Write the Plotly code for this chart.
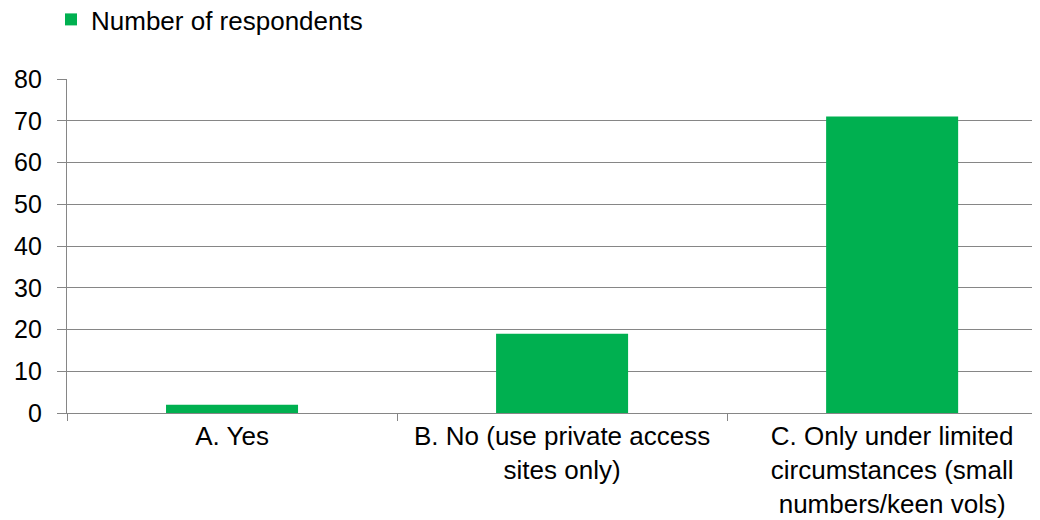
import plotly.graph_objects as go

categories = ["A. Yes", "B. No (use private access<br>sites only)",
              "C. Only under limited<br>circumstances (small<br>numbers/keen vols)"]
values = [2, 19, 71]
series_name = "Number of respondents"
y_ticks = [0, 10, 20, 30, 40, 50, 60, 70, 80]

fig = go.Figure()
fig.add_trace(go.Bar(x=categories, y=values, name=series_name,
                     marker=dict(color="#00B050", line=dict(width=0)),
                     width=0.4, showlegend=True))

grey = "#868686"
W, H = 1032, 512
plot_h = H - 71 - 107
fig.update_layout(
    width=W, height=H,
    margin=dict(l=59, r=0, t=71, b=107, autoexpand=False),
    paper_bgcolor="white", plot_bgcolor="white",
    font=dict(family="Liberation Sans, Arial, sans-serif", size=26, color="black"),
    legend=dict(x=-16 / 973, y=1 + 83 / plot_h, xref="paper", yref="paper",
                xanchor="left", yanchor="top", orientation="h",
                font=dict(size=26), itemwidth=30, bgcolor="rgba(0,0,0,0)",
                borderwidth=0),
    bargap=0.6,
    xaxis=dict(type="category", range=[-0.5, 2.448], tickson="boundaries",
               ticks="outside", ticklen=7, tickcolor=grey, tickwidth=1.3,
               showline=True, linecolor=grey, linewidth=1.3,
               showgrid=False, tickfont=dict(size=26), ticklabelstandoff=0,
               automargin=False),
    yaxis=dict(range=[0, 80], tickvals=y_ticks, ticks="outside", ticklen=9,
               tickcolor=grey, tickwidth=1.3, showline=True, linecolor=grey,
               linewidth=1.3, showgrid=True, gridcolor=grey, gridwidth=1.3,
               zeroline=False, ticklabelstandoff=10, tickfont=dict(size=25),
               automargin=False),
)

fig.write_html("out.html")
